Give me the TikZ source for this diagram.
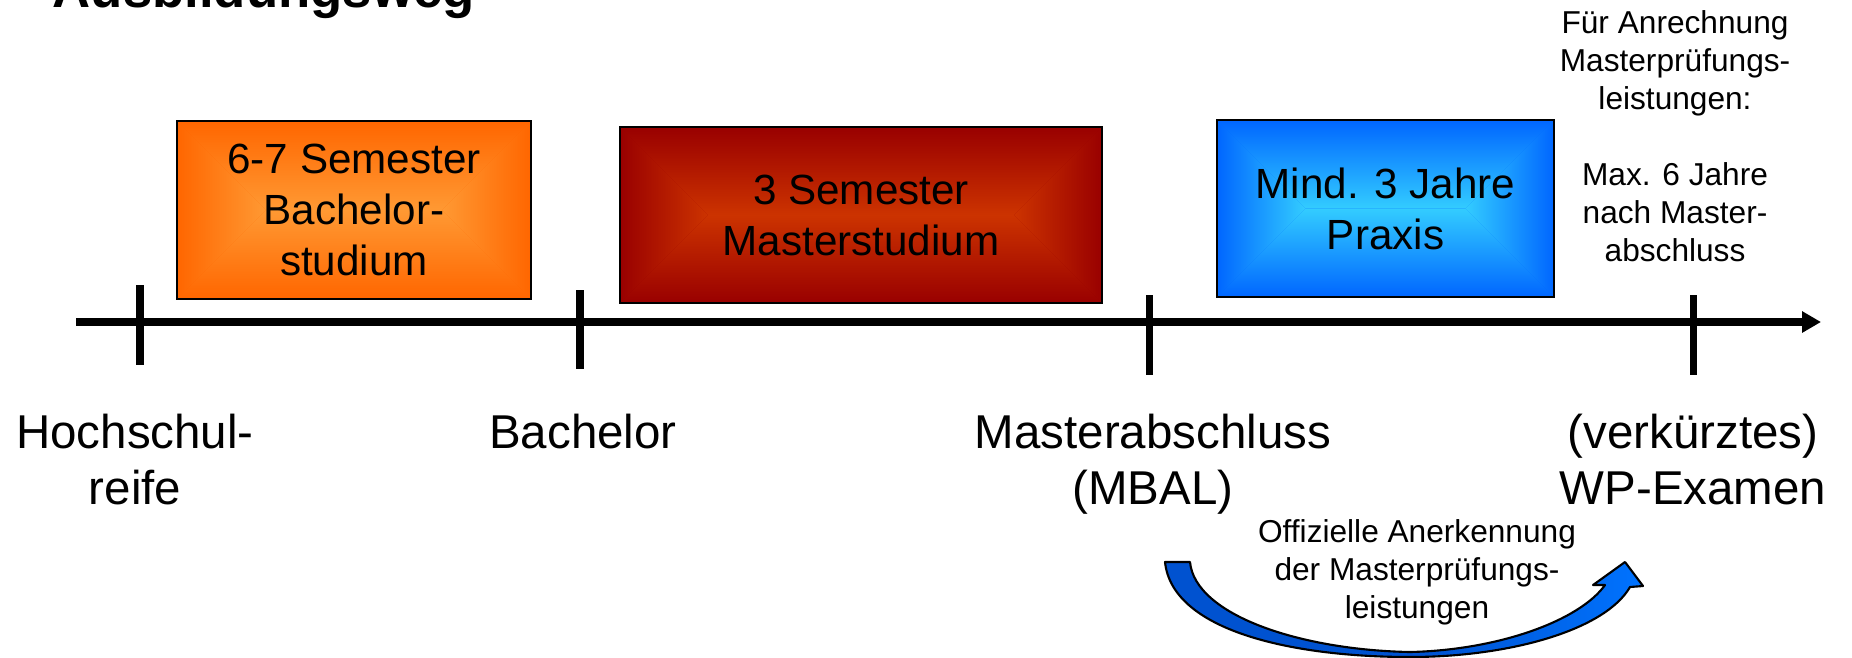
\documentclass[tikz,border=0pt]{standalone}
\usepackage{fontspec}
\setmainfont{Liberation Sans}
\usetikzlibrary{arrows.meta}
\definecolor{oEdge}{RGB}{255,102,0}
\definecolor{oCenter}{RGB}{255,153,51}
\definecolor{rEdge}{RGB}{153,0,0}
\definecolor{rCenter}{RGB}{204,51,0}
\definecolor{bEdge}{RGB}{0,102,255}
\definecolor{bCenter}{RGB}{51,204,255}
\definecolor{arrLeft}{RGB}{0,82,208}
\definecolor{arrDark}{RGB}{0,80,205}
\definecolor{arrBright}{RGB}{0,115,255}
% rectangular "from centre" gradient: x1 y1 x2 y2 edge centre
\newcommand\gradbox[6]{%
  \pgfmathsetmacro\gxa{#1+(#4-#2)/2}%
  \pgfmathsetmacro\gxb{#3-(#4-#2)/2}%
  \pgfmathsetmacro\gyc{(#2+#4)/2}%
  \fill[#5] (#1,#2) rectangle (#3,#4);
  \begin{scope}\clip (#1,#2) -- (#3,#2) -- (\gxb,\gyc) -- (\gxa,\gyc) -- cycle;
    \shade[top color=#5,bottom color=#6] (#1,#2) rectangle (#3,\gyc);\end{scope}
  \begin{scope}\clip (#1,#4) -- (#3,#4) -- (\gxb,\gyc) -- (\gxa,\gyc) -- cycle;
    \shade[top color=#6,bottom color=#5] (#1,\gyc) rectangle (#3,#4);\end{scope}
  \begin{scope}\clip (#1,#2) -- (\gxa,\gyc) -- (#1,#4) -- cycle;
    \shade[left color=#5,right color=#6] (#1,#2) rectangle (\gxa,#4);\end{scope}
  \begin{scope}\clip (#3,#2) -- (\gxb,\gyc) -- (#3,#4) -- cycle;
    \shade[left color=#6,right color=#5] (\gxb,#2) rectangle (#3,#4);\end{scope}
}
\begin{document}
\begin{tikzpicture}[x=0.01cm,y=-0.01cm,
  boxtext/.style={draw=black,line width=0.6pt,inner sep=0pt,align=center,
    font=\fontsize{12}{14.5}\selectfont},
  timelabel/.style={inner sep=0pt,align=center,anchor=north,
    font=\fontsize{13.5}{16}\selectfont},
  sidenote/.style={inner sep=0pt,align=center,anchor=north,
    font=\fontsize{9}{10.8}\selectfont},
  tickmark/.style={line width=2pt},
  timeline/.style={line width=2pt,-{Triangle[length=5.4pt,width=5.8pt]}},
  bandarrow/.style={draw=black,line width=0.6pt,line join=round}]
\useasboundingbox (0,0) rectangle (1852,657);

% title (cut off at the top)
\node[anchor=base west,inner sep=0pt,font=\fontsize{15}{18}\selectfont\bfseries]
  (title) at (52,7) {Ausbildungsweg};

% boxes
\gradbox{177}{121}{531}{299}{oEdge}{oCenter}
\node[boxtext,minimum width=3.54cm,minimum height=1.78cm] (bachbox) at (354,210)
  {6-7 Semester\\Bachelor-\\studium};
\gradbox{620}{127}{1102}{303}{rEdge}{rCenter}
\node[boxtext,minimum width=4.82cm,minimum height=1.76cm] (masterbox) at (861,215)
  {3 Semester\\Masterstudium};
\gradbox{1217}{120}{1554}{297}{bEdge}{bCenter}
\node[boxtext,minimum width=3.37cm,minimum height=1.77cm] (praxisbox) at (1385.5,208.5)
  {Mind. 3 Jahre\\Praxis};

% timeline
\coordinate (tlstart) at (76,322);
\coordinate (tlend) at (1821,322);
\draw[timeline] (tlstart) -- (tlend);
\coordinate (t1a) at (140,285); \coordinate (t1b) at (140,365);
\coordinate (t2a) at (580,290); \coordinate (t2b) at (580,369);
\coordinate (t3a) at (1149,295); \coordinate (t3b) at (1149,375);
\coordinate (t4a) at (1693,295); \coordinate (t4b) at (1693,375);
\draw[tickmark] (t1a) -- (t1b);
\draw[tickmark] (t2a) -- (t2b);
\draw[tickmark] (t3a) -- (t3b);
\draw[tickmark] (t4a) -- (t4b);

% labels below the timeline
\node[timelabel] (lab1) at (135,413) {Hochschul-\\reife};
\node[timelabel] (lab2) at (583,413) {Bachelor};
\node[timelabel] (lab3) at (1153,413) {Masterabschluss\\(MBAL)};
\node[timelabel] (lab4) at (1693,413) {(verkürztes)\\WP-Examen};

% note top right
\node[sidenote] (note) at (1675,10)
  {Für Anrechnung\\Masterprüfungs-\\leistungen:\\[10.8pt]Max. 6 Jahre\\nach Master-\\abschluss};

% curved arrow: fills first, then one outline
\fill[arrLeft] (1165,562) -- (1190,562)
  .. controls (1195,615) and (1300,650) .. (1410,652) -- (1410,657)
  .. controls (1290,657) and (1172,630) .. (1165,562) -- cycle;
\shade[left color=arrDark,right color=arrBright] (1410,652)
  .. controls (1500,650) and (1580,620) .. (1605,585) -- (1593,585)
  -- (1625,562) -- (1643,586) -- (1630,587)
  .. controls (1605,630) and (1510,657) .. (1410,657) -- cycle;
\draw[bandarrow] (1165,562) -- (1190,562)
  .. controls (1195,615) and (1300,650) .. (1410,652)
  .. controls (1500,650) and (1580,620) .. (1605,585) -- (1593,585)
  -- (1625,562) -- (1643,586) -- (1630,587)
  .. controls (1605,630) and (1510,657) .. (1410,657)
  .. controls (1290,657) and (1172,630) .. (1165,562) -- cycle;
\node[sidenote] (arrlabel) at (1417,519)
  {Offizielle Anerkennung\\der Masterprüfungs-\\leistungen};
\end{tikzpicture}
\end{document}
